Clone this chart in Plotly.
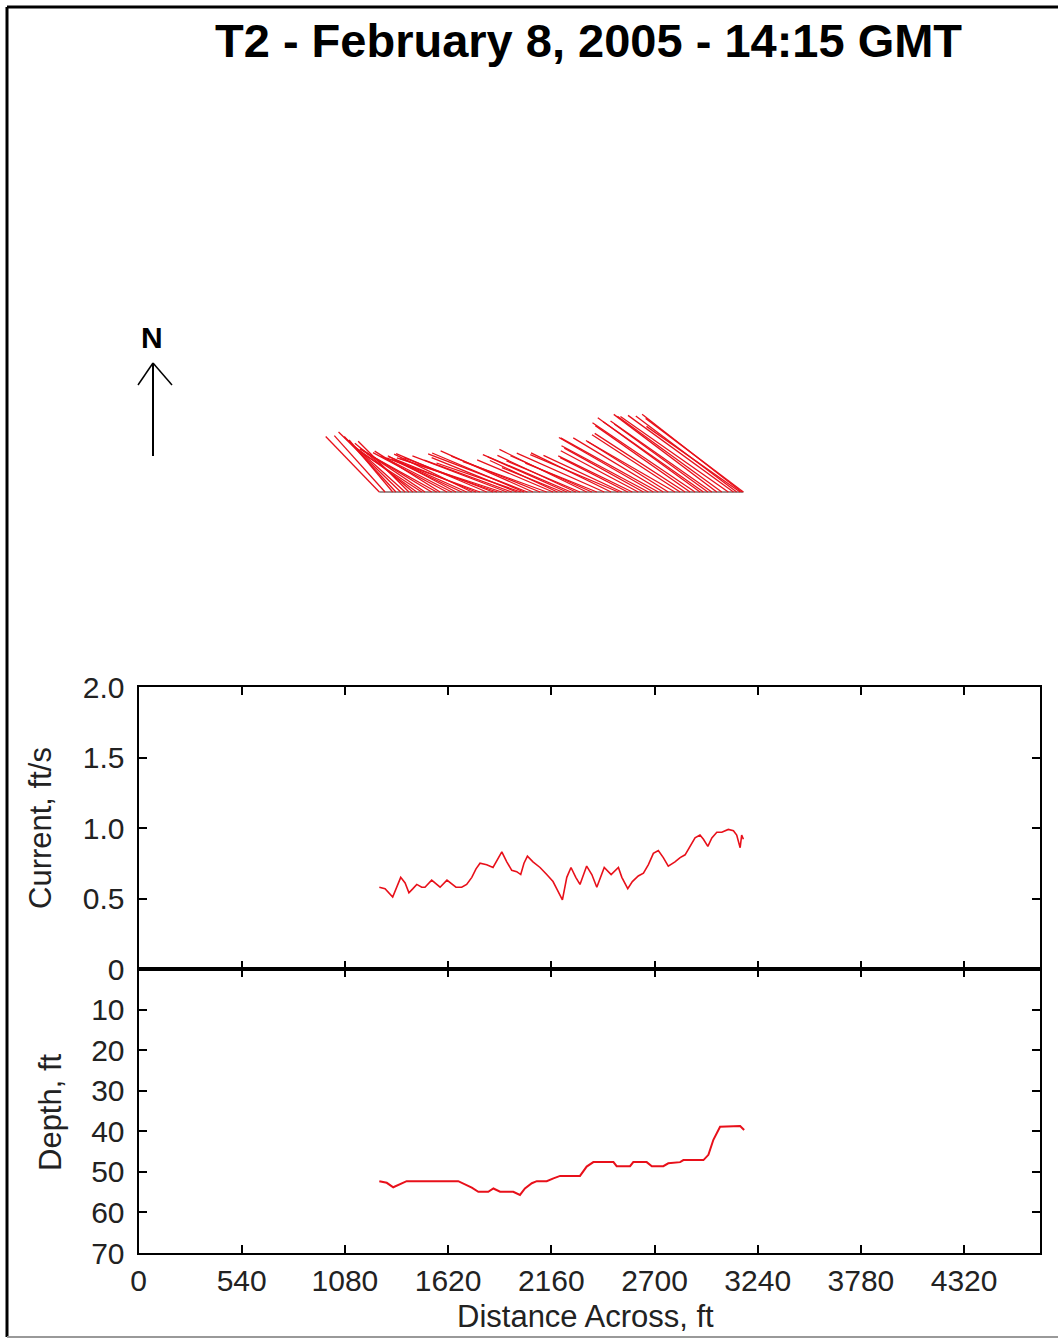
import plotly.graph_objects as go
import numpy as np

# ---- data ----
dist_cur = [1260, 1290, 1330, 1347, 1372, 1395, 1415, 1436, 1456, 1482,
            1499, 1534, 1560, 1578, 1614, 1639, 1661, 1691, 1717, 1744,
            1766, 1787, 1822, 1855, 1876, 1901, 1927, 1953, 1979, 2000,
            2017, 2035, 2064, 2101, 2136, 2169, 2192, 2218, 2241, 2263,
            2288, 2310, 2345, 2372, 2398, 2437, 2473, 2511, 2529, 2560,
            2584, 2615, 2642, 2668, 2694, 2720, 2746, 2772, 2807, 2834,
            2860, 2886, 2912, 2938, 2956, 2979, 3000, 3026, 3052, 3086,
            3113, 3130, 3148, 3156, 3165]
current = [0.58, 0.57, 0.51, 0.57, 0.65, 0.61, 0.54, 0.57, 0.60, 0.58,
           0.58, 0.63, 0.60, 0.58, 0.63, 0.60, 0.58, 0.58, 0.60, 0.65,
           0.71, 0.75, 0.74, 0.72, 0.77, 0.83, 0.76, 0.70, 0.69, 0.67,
           0.75, 0.80, 0.76, 0.72, 0.67, 0.62, 0.56, 0.49, 0.65, 0.72,
           0.65, 0.60, 0.73, 0.67, 0.58, 0.72, 0.67, 0.72, 0.65, 0.57,
           0.62, 0.66, 0.68, 0.74, 0.82, 0.84, 0.79, 0.73, 0.76, 0.79,
           0.81, 0.87, 0.93, 0.95, 0.92, 0.87, 0.93, 0.97, 0.97, 0.99,
           0.98, 0.95, 0.86, 0.95, 0.92]
# flow direction, degrees clockwise from north
direction = [316, 318, 320, 317, 314, 312, 315, 310, 306, 303,
             304, 301, 299, 302, 298, 297, 298, 295, 294, 296,
             292, 290, 293, 291, 289, 288, 291, 290, 292, 289,
             293, 291, 294, 292, 290, 293, 295, 292, 294, 293,
             295, 293, 296, 294, 292, 294, 296, 293, 295, 297,
             296, 298, 299, 298, 300, 299, 301, 302, 300, 303,
             303, 305, 304, 306, 305, 306, 305, 307, 306, 305,
             306, 307, 305, 308, 307]

dist_dep = [1260, 1299, 1333, 1368, 1403, 1673, 1709, 1744, 1778, 1830,
            1857, 1892, 1961, 1996, 2022, 2058, 2084, 2136, 2171, 2206,
            2310, 2345, 2380, 2485, 2502, 2572, 2589, 2659, 2686, 2746,
            2772, 2834, 2851, 2956, 2982, 3008, 3043, 3148, 3169]
depth = [52.3, 52.7, 53.8, 53.0, 52.3, 52.3, 53.1, 53.9, 54.9, 54.9,
         54.1, 54.9, 54.9, 55.7, 54.1, 52.8, 52.3, 52.3, 51.6, 51.0,
         51.0, 48.7, 47.6, 47.6, 48.6, 48.6, 47.6, 47.6, 48.6, 48.6,
         47.9, 47.6, 47.1, 47.1, 45.8, 42.1, 38.9, 38.7, 39.7]

x_ticks = [0, 540, 1080, 1620, 2160, 2700, 3240, 3780, 4320]
cur_ticks = [0, 0.5, 1.0, 1.5, 2.0]
cur_labels = ["0", "0.5", "1.0", "1.5", "2.0"]
dep_ticks = [10, 20, 30, 40, 50, 60, 70]

title = "T2 - February 8, 2005 - 14:15 GMT"

# ---- geometry (pixels of the 1058x1339 page) ----
W, H = 1058, 1339
X_MAX = 4717
ax_l, ax_r = 138.5, 1040
px_per_ft = (ax_r - ax_l) / X_MAX

def fx(p):
    return p / W

def fy(p):
    return 1 - p / H

vec_top, vec_bot, vec_base = 100, 660, 492
vec_scale = 133 / px_per_ft  # ft of arrow per ft/s

FONT = "Liberation Sans, Arial, sans-serif"
RED = "#e8101a"

# vectors
vx, vy = [], []
for d, c, a in zip(dist_cur, current, direction):
    r = np.radians(a)
    vx += [d, d + vec_scale * c * np.sin(r), None]
    vy += [0, vec_scale * c * np.cos(r), None]

fig = go.Figure()
fig.add_trace(go.Scatter(x=[dist_cur[0], dist_cur[-1]], y=[0, 0], mode="lines",
                         line=dict(color="#3a2020", width=1.2), xaxis="x3", yaxis="y3"))
fig.add_trace(go.Scatter(x=vx, y=vy, mode="lines", line=dict(color=RED, width=1.3),
                         xaxis="x3", yaxis="y3"))
fig.add_trace(go.Scatter(x=dist_cur, y=current, mode="lines",
                         line=dict(color=RED, width=1.6), xaxis="x2", yaxis="y2"))
fig.add_trace(go.Scatter(x=dist_dep, y=depth, mode="lines",
                         line=dict(color=RED, width=2), xaxis="x", yaxis="y"))

axis_common = dict(showline=True, linecolor="black", linewidth=2, mirror="ticks",
                   ticks="inside", ticklen=8, tickwidth=2, tickcolor="black",
                   showgrid=False, zeroline=False, automargin=False,
                   tickfont=dict(family=FONT, size=30, color="#222"))

xdom = [fx(ax_l), fx(ax_r)]
fig.update_layout(
    template="none",
    width=W, height=H, autosize=False,
    margin=dict(l=0, r=0, t=0, b=0, pad=0),
    paper_bgcolor="white", plot_bgcolor="white",
    showlegend=False,
    xaxis=dict(domain=xdom, range=[0, X_MAX], tickvals=x_ticks, anchor="y",
               ticklabelstandoff=0, **axis_common),
    yaxis=dict(domain=[fy(1253), fy(969)], range=[70, 0], tickvals=dep_ticks,
               anchor="x", ticklabelstandoff=6, **axis_common),
    xaxis2=dict(domain=xdom, range=[0, X_MAX], tickvals=x_ticks, anchor="y2",
                showticklabels=False, **axis_common),
    yaxis2=dict(domain=[fy(969), fy(687)], range=[0, 2], tickvals=cur_ticks,
                ticktext=cur_labels, anchor="x2", ticklabelstandoff=6, **axis_common),
    xaxis3=dict(domain=xdom, range=[0, X_MAX], visible=False, anchor="y3", automargin=False),
    yaxis3=dict(domain=[fy(vec_bot), fy(vec_top)],
                range=[-(vec_bot - vec_base) / px_per_ft, (vec_base - vec_top) / px_per_ft],
                visible=False, anchor="x3", automargin=False),
)

annotations = [
    dict(text="<b>" + title + "</b>", x=fx(588), y=fy(40), xref="paper", yref="paper",
         showarrow=False, font=dict(family=FONT, size=47, color="black"),
         xanchor="center", yanchor="middle"),
    dict(text="<b>N</b>", x=fx(152), y=fy(337), xref="paper", yref="paper",
         showarrow=False, font=dict(family=FONT, size=30, color="black"),
         xanchor="center", yanchor="middle"),
    dict(text="Current, ft/s", x=fx(40), y=fy(828), xref="paper", yref="paper",
         showarrow=False, textangle=-90, font=dict(family=FONT, size=31, color="#222"),
         xanchor="center", yanchor="middle"),
    dict(text="Depth, ft", x=fx(50), y=fy(1112), xref="paper", yref="paper",
         showarrow=False, textangle=-90, font=dict(family=FONT, size=31, color="#222"),
         xanchor="center", yanchor="middle"),
    dict(text="Distance Across, ft", x=fx(585), y=fy(1316), xref="paper", yref="paper",
         showarrow=False, font=dict(family=FONT, size=31, color="#222"),
         xanchor="center", yanchor="middle"),
]
fig.update_layout(annotations=annotations)

line = dict(color="black", width=2)
shapes = [
    # north arrow
    dict(type="line", xref="paper", yref="paper", x0=fx(153), x1=fx(153), y0=fy(456), y1=fy(363), line=line),
    dict(type="line", xref="paper", yref="paper", x0=fx(153), x1=fx(138), y0=fy(363), y1=fy(385), line=dict(color="black", width=1.5)),
    dict(type="line", xref="paper", yref="paper", x0=fx(153), x1=fx(172), y0=fy(363), y1=fy(385), line=dict(color="black", width=1.5)),
    # outer frame
    dict(type="line", xref="paper", yref="paper", x0=fx(7), x1=fx(7), y0=fy(7), y1=fy(1337), line=dict(color="black", width=3)),
    dict(type="line", xref="paper", yref="paper", x0=fx(7), x1=1, y0=fy(7), y1=fy(7), line=dict(color="black", width=3)),
    dict(type="line", xref="paper", yref="paper", x0=fx(7), x1=1, y0=fy(1337), y1=fy(1337), line=dict(color="#999", width=2)),
]
fig.update_layout(shapes=shapes)

fig.write_html("out.html", config={"displayModeBar": False},
               post_script="document.body.style.margin='0';document.body.style.overflow='hidden';")
